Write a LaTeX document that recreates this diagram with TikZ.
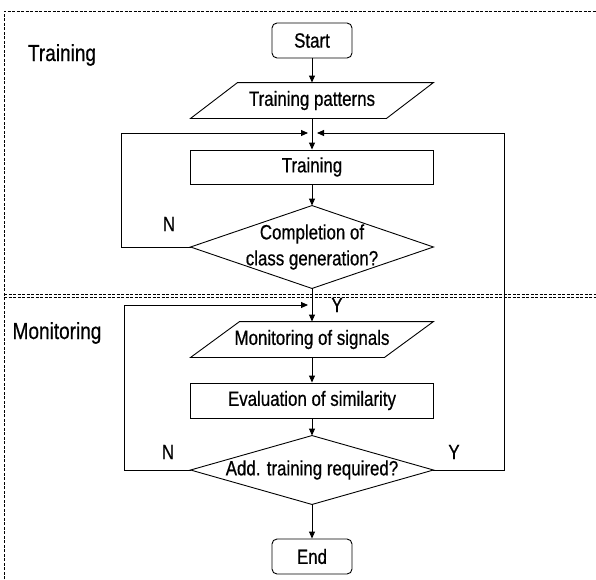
\documentclass[tikz,border=0pt]{standalone}
\usepackage{fontspec}
\setmainfont[FakeStretch=0.82,FakeBold=0.6]{Liberation Sans}
\usetikzlibrary{arrows.meta}
\newcommand\mainsz{\fontsize{20.6}{26}\selectfont}
\newcommand\labsz{\fontsize{23.2}{26}\selectfont}
\tikzset{
 arr/.style={-{Triangle[length=7pt,width=6pt]}},
 term/.style={draw, rounded corners=5pt, minimum width=80pt, minimum height=35pt, inner sep=0pt, font=\mainsz},
 proc/.style={draw, minimum width=243pt, minimum height=34pt, inner sep=0pt, font=\mainsz},
 iobox/.style={minimum width=195pt, minimum height=35pt, inner sep=0pt, font=\mainsz},
 decbox/.style={minimum width=242pt, inner sep=0pt, font=\mainsz, align=center},
 lane/.style={line width=0.6pt, dash pattern=on 3pt off 1.5pt},
 lbl/.style={font=\mainsz, inner sep=0pt},
 lanelbl/.style={font=\labsz, inner sep=0pt},
}
\begin{document}
\begin{tikzpicture}[x=1pt,y=-1pt,line width=0.9pt]
\useasboundingbox (0,0) rectangle (596,579);
% lanes
\draw[lane] (4,579) -- (4,11) -- (596,11);
\draw[lane] (4,294) -- (596,294);
\draw[lane] (4,297.5) -- (596,297.5);
\node[lanelbl] (ltrain) at (62,55) {Training};
\node[lanelbl] (lmon) at (57,333) {Monitoring};
% nodes
\node[term] (start) at (312,40.5) {Start};
\node[iobox] (tp) at (312,100.5) {Training patterns};
\draw ([xshift=23.5pt]tp.north west) -- ([xshift=23.5pt]tp.north east) -- ([xshift=-23.5pt]tp.south east) -- ([xshift=-23.5pt]tp.south west) -- cycle;
\node[proc] (train) at (312,167) {Training};
\node[decbox, minimum height=82pt] (d1) at (312,247) {Completion of\\class generation?};
\draw (d1.north) -- (d1.east) -- (d1.south) -- (d1.west) -- cycle;
\node[iobox, minimum width=193pt] (mon) at (312,339.5) {Monitoring of signals};
\draw ([xshift=24.5pt]mon.north west) -- ([xshift=24.5pt]mon.north east) -- ([xshift=-24.5pt]mon.south east) -- ([xshift=-24.5pt]mon.south west) -- cycle;
\node[proc, minimum height=35pt] (eval) at (312,400.5) {Evaluation of similarity};
\node[decbox, minimum height=68pt] (d2) at (312,470) {Add. training required?};
\draw (d2.north) -- (d2.east) -- (d2.south) -- (d2.west) -- cycle;
\node[term] (end) at (312,556.5) {End};
\coordinate (m1) at (312,133);
\coordinate (m2) at (312,305);
% connectors
\draw[arr] (start.south) -- (tp.north);
\draw[arr] (tp.south) -- (train.north);
\draw[arr] (train.south) -- (d1.north);
\draw[arr] (d1.south) -- (mon.north);
\draw[arr] (mon.south) -- (eval.north);
\draw[arr] (eval.south) -- (d2.north);
\draw[arr] (d2.south) -- (end.north);
\draw[arr, shorten >=4pt] (d1.west) -- ++(-69,0) |- (m1);
\draw[arr, shorten >=5pt] (d2.east) -- ++(71,0) |- (m1);
\draw[arr, shorten >=4pt] (d2.west) -- ++(-66,0) |- (m2);
% labels
\node[lbl] (n1) at (169,224) {N};
\node[lbl] (y1) at (337,305) {Y};
\node[lbl] (n2) at (168,452) {N};
\node[lbl] (y2) at (454,452) {Y};
\end{tikzpicture}
\end{document}
